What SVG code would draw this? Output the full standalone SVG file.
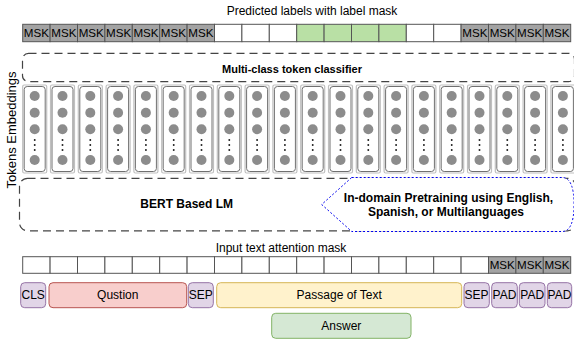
<svg xmlns="http://www.w3.org/2000/svg" xmlns:xlink="http://www.w3.org/1999/xlink" width="574" height="341" viewBox="0 0 574 341">
<style>
text{font-family:"Liberation Sans",Arial,sans-serif;fill:#000}
.t11{font-size:12px}
.msk-t{font-size:11.6px}
.b11{font-size:11px;font-weight:bold}
.b12{font-size:12px;font-weight:bold}
.cell{fill:#fff;stroke:#555;stroke-width:1}
.msk{fill:#a3a3a3;stroke:#555;stroke-width:1}
.grn{fill:#b9e0a5;stroke:#555;stroke-width:1}
.dash{fill:#fff;stroke:#444;stroke-width:1.2;stroke-dasharray:8 5}
.pur{fill:#e1d5e7;stroke:#9673a6;stroke-width:1}
.red{fill:#f8cecc;stroke:#b85450;stroke-width:1}
.yel{fill:#fff2cc;stroke:#d6b656;stroke-width:1}
.gr2{fill:#d5e8d4;stroke:#82b366;stroke-width:1}
</style>
<defs>
<g id="col">
<rect x="-12" y="85" width="24" height="88" rx="1.5" fill="#fff" stroke="#c0c0c0" stroke-width="1.2"/>
<rect x="-10.5" y="86.5" width="21" height="85" rx="3" fill="none" stroke="#707070"/>
<circle cx="0" cy="96" r="5" fill="#8c8c8c"/>
<circle cx="0" cy="112.7" r="5" fill="#8c8c8c"/>
<circle cx="0" cy="129.3" r="5" fill="#8c8c8c"/>
<rect x="-0.8" y="139.2" width="1.6" height="1.6" fill="#000"/>
<rect x="-0.8" y="144.2" width="1.6" height="1.6" fill="#000"/>
<rect x="-0.8" y="149.2" width="1.6" height="1.6" fill="#000"/>
<circle cx="0" cy="160" r="5" fill="#8c8c8c"/>
</g>
</defs>
<rect width="574" height="341" fill="#fff"/>

<g id="title-top"><text class="t11" x="312" y="15" text-anchor="middle">Predicted labels with label mask</text></g>

<g id="predicted-row">
<rect class="msk" x="22.7" y="24.3" width="27.4" height="17.4"/>
<rect class="msk" x="50.1" y="24.3" width="27.4" height="17.4"/>
<rect class="msk" x="77.5" y="24.3" width="27.4" height="17.4"/>
<rect class="msk" x="104.9" y="24.3" width="27.4" height="17.4"/>
<rect class="msk" x="132.3" y="24.3" width="27.4" height="17.4"/>
<rect class="msk" x="159.7" y="24.3" width="27.4" height="17.4"/>
<rect class="msk" x="187.1" y="24.3" width="27.4" height="17.4"/>
<rect class="cell" x="214.5" y="24.3" width="27.4" height="17.4"/>
<rect class="cell" x="241.9" y="24.3" width="27.4" height="17.4"/>
<rect class="cell" x="269.3" y="24.3" width="27.4" height="17.4"/>
<rect class="grn" x="296.7" y="24.3" width="27.4" height="17.4"/>
<rect class="grn" x="324.1" y="24.3" width="27.4" height="17.4"/>
<rect class="grn" x="351.5" y="24.3" width="27.4" height="17.4"/>
<rect class="grn" x="378.9" y="24.3" width="27.4" height="17.4"/>
<rect class="cell" x="406.3" y="24.3" width="27.4" height="17.4"/>
<rect class="cell" x="433.7" y="24.3" width="27.4" height="17.4"/>
<rect class="msk" x="461.1" y="24.3" width="27.4" height="17.4"/>
<rect class="msk" x="488.5" y="24.3" width="27.4" height="17.4"/>
<rect class="msk" x="515.9" y="24.3" width="27.4" height="17.4"/>
<rect class="msk" x="543.3" y="24.3" width="27.4" height="17.4"/>
<g class="msk-t" text-anchor="middle">
<text x="36.4" y="37.3">MSK</text><text x="63.8" y="37.3">MSK</text><text x="91.2" y="37.3">MSK</text><text x="118.6" y="37.3">MSK</text><text x="146" y="37.3">MSK</text><text x="173.4" y="37.3">MSK</text><text x="200.8" y="37.3">MSK</text>
<text x="474.8" y="37.3">MSK</text><text x="502.2" y="37.3">MSK</text><text x="529.6" y="37.3">MSK</text><text x="557" y="37.3">MSK</text>
</g>
</g>

<g id="classifier">
<rect class="dash" x="22.5" y="53.3" width="552" height="28.4" rx="6"/>
<text class="b11" x="292" y="73" text-anchor="middle">Multi-class token classifier</text>
</g>

<g id="embeddings-label"><text transform="translate(15.5,130) rotate(-90)" text-anchor="middle" font-size="13">Tokens Embeddings</text></g>

<g id="embeddings">
<use xlink:href="#col" x="34.7"/><use xlink:href="#col" x="62.5"/><use xlink:href="#col" x="90.3"/><use xlink:href="#col" x="118.1"/><use xlink:href="#col" x="145.9"/>
<use xlink:href="#col" x="173.7"/><use xlink:href="#col" x="201.5"/><use xlink:href="#col" x="229.3"/><use xlink:href="#col" x="257.1"/><use xlink:href="#col" x="284.9"/>
<use xlink:href="#col" x="312.7"/><use xlink:href="#col" x="340.5"/><use xlink:href="#col" x="368.3"/><use xlink:href="#col" x="396.1"/><use xlink:href="#col" x="423.9"/>
<use xlink:href="#col" x="451.7"/><use xlink:href="#col" x="479.5"/><use xlink:href="#col" x="507.3"/><use xlink:href="#col" x="535.1"/><use xlink:href="#col" x="562.9"/>
</g>

<g id="bert">
<rect class="dash" x="19.5" y="178.3" width="556" height="52.5" rx="8"/>
<text class="b12" x="186.7" y="208.3" text-anchor="middle">BERT Based LM</text>
</g>

<g id="pretraining">
<path d="M351.7,177.5 L562,177.5 Q574,177.5 574,204.5 Q574,231.5 562,231.5 L351.7,231.5 L321.7,204.5 Z" fill="#fff" stroke="#0000ee" stroke-width="1" stroke-dasharray="2 2"/>
<text class="b12" x="448.5" y="201.7" text-anchor="middle">In-domain Pretraining using English,</text>
<text class="b12" x="446" y="215.7" text-anchor="middle">Spanish, or Multilanguages</text>
</g>

<g id="title-input"><text class="t11" x="281" y="252" text-anchor="middle">Input text attention mask</text></g>

<g id="input-row">
<rect class="cell" x="22.7" y="256.7" width="27.4" height="16.6"/>
<rect class="cell" x="50.1" y="256.7" width="27.4" height="16.6"/>
<rect class="cell" x="77.5" y="256.7" width="27.4" height="16.6"/>
<rect class="cell" x="104.9" y="256.7" width="27.4" height="16.6"/>
<rect class="cell" x="132.3" y="256.7" width="27.4" height="16.6"/>
<rect class="cell" x="159.7" y="256.7" width="27.4" height="16.6"/>
<rect class="cell" x="187.1" y="256.7" width="27.4" height="16.6"/>
<rect class="cell" x="214.5" y="256.7" width="27.4" height="16.6"/>
<rect class="cell" x="241.9" y="256.7" width="27.4" height="16.6"/>
<rect class="cell" x="269.3" y="256.7" width="27.4" height="16.6"/>
<rect class="cell" x="296.7" y="256.7" width="27.4" height="16.6"/>
<rect class="cell" x="324.1" y="256.7" width="27.4" height="16.6"/>
<rect class="cell" x="351.5" y="256.7" width="27.4" height="16.6"/>
<rect class="cell" x="378.9" y="256.7" width="27.4" height="16.6"/>
<rect class="cell" x="406.3" y="256.7" width="27.4" height="16.6"/>
<rect class="cell" x="433.7" y="256.7" width="27.4" height="16.6"/>
<rect class="cell" x="461.1" y="256.7" width="27.4" height="16.6"/>
<rect class="msk" x="488.5" y="256.7" width="27.4" height="16.6"/>
<rect class="msk" x="515.9" y="256.7" width="27.4" height="16.6"/>
<rect class="msk" x="543.3" y="256.7" width="27.4" height="16.6"/>
<g class="msk-t" text-anchor="middle"><text x="502.2" y="269">MSK</text><text x="529.6" y="269">MSK</text><text x="557" y="269">MSK</text></g>
</g>

<g id="tok-cls"><rect class="pur" x="20.7" y="282.7" width="25" height="25" rx="4"/><text class="t11" x="33.2" y="299.3" text-anchor="middle">CLS</text></g>
<g id="tok-question"><rect class="red" x="49" y="282.7" width="137.7" height="25" rx="4"/><text class="t11" x="117.8" y="299.3" text-anchor="middle">Qustion</text></g>
<g id="tok-sep1"><rect class="pur" x="188.3" y="282.7" width="25" height="25" rx="4"/><text class="t11" x="200.8" y="299.3" text-anchor="middle">SEP</text></g>
<g id="tok-passage"><rect class="yel" x="216.7" y="282.7" width="245" height="25" rx="4"/><text class="t11" x="339.2" y="299.3" text-anchor="middle">Passage of Text</text></g>
<g id="tok-sep2"><rect class="pur" x="464" y="282.7" width="25.3" height="25" rx="4"/><text class="t11" x="476.6" y="299.3" text-anchor="middle">SEP</text></g>
<g id="tok-pad1"><rect class="pur" x="491.7" y="282.7" width="25.6" height="25" rx="4"/><text class="t11" x="504.5" y="299.3" text-anchor="middle">PAD</text></g>
<g id="tok-pad2"><rect class="pur" x="519.3" y="282.7" width="25.7" height="25" rx="4"/><text class="t11" x="532.2" y="299.3" text-anchor="middle">PAD</text></g>
<g id="tok-pad3"><rect class="pur" x="547.3" y="282.7" width="24.4" height="25" rx="4"/><text class="t11" x="559.5" y="299.3" text-anchor="middle">PAD</text></g>
<g id="answer"><rect class="gr2" x="271.7" y="313.3" width="139.3" height="25" rx="4"/><text class="t11" x="341.3" y="329.8" text-anchor="middle">Answer</text></g>

<g id="connectors"></g>
</svg>
